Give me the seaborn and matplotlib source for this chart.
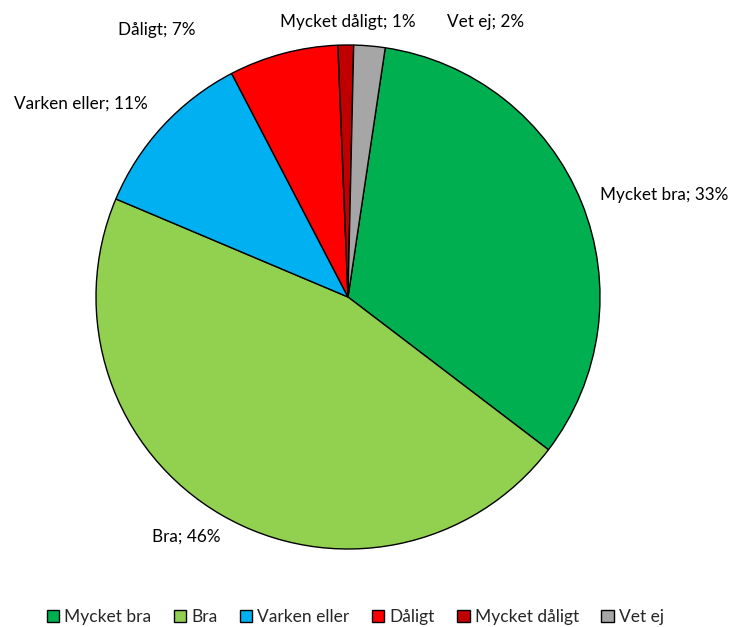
import matplotlib
matplotlib.use("Agg")
import matplotlib.pyplot as plt
import seaborn as sns

categories = ["Mycket bra", "Bra", "Varken eller", "Dåligt", "Mycket dåligt", "Vet ej"]
shares = [33, 46, 11, 7, 1, 2]
colors = ["#00B050", "#92D050", "#00B0F0", "#FF0000", "#C00000", "#A6A6A6"]

# label centres in pie units (radius = 1)
label_pos = [(1.255, 0.405), (-0.64, -0.95), (-1.06, 0.766),
             (-0.76, 1.06), (0.0, 1.09), (0.545, 1.09)]

sns.set_theme(style="white")
plt.rcParams["font.family"] = ["Lato", "DejaVu Sans"]

fig = plt.figure(figsize=(7.31, 6.27), dpi=100)
ax = fig.add_axes([96 / 731, 78 / 627, 504 / 731, 504 / 627])

wedges, _ = ax.pie(shares, colors=colors, startangle=81.5, counterclock=False,
                   wedgeprops=dict(edgecolor="black", linewidth=1))
ax.set_xlim(-1, 1)
ax.set_ylim(-1, 1)
ax.set_aspect("equal")
ax.axis("off")

for name, val, (x, y) in zip(categories, shares, label_pos):
    ax.text(x, y, f"{name}; {val}%", ha="center", va="center", fontsize=12.3,
            color="black")

fig.legend(wedges, categories, loc="center", bbox_to_anchor=(0.486, 1 - 617 / 627),
           ncol=6, frameon=False, fontsize=12.5, handlelength=0.7, handleheight=0.7,
           handletextpad=0.3, columnspacing=1.3)

fig.savefig("out.png", dpi=100)
